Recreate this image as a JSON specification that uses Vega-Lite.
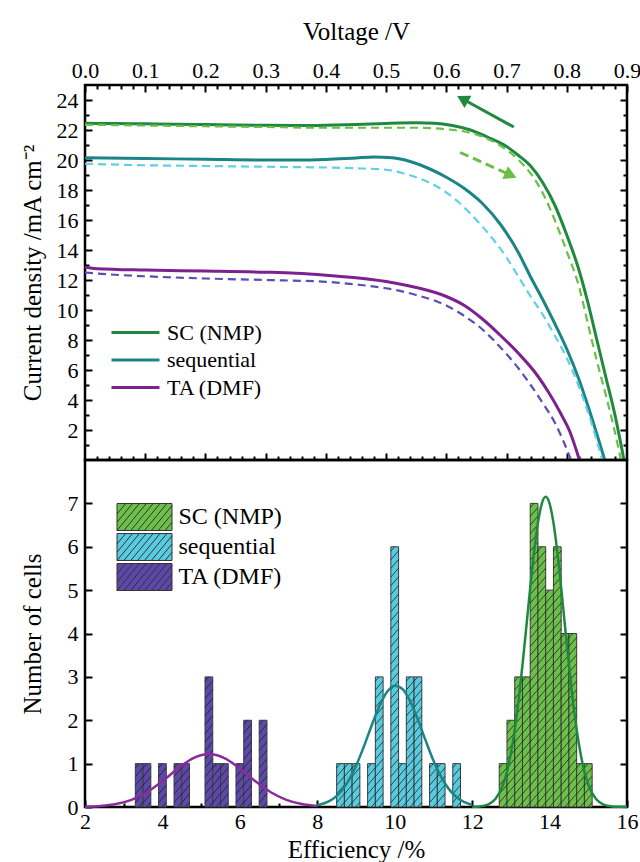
{
  "$schema": "https://vega.github.io/schema/vega-lite/v6.json",
  "background": "white",
  "padding": {"left": 18, "top": 17, "right": 5, "bottom": 5},
  "spacing": 0,
  "bounds": "flush",
  "config": {
    "view": {"stroke": "black", "strokeWidth": 2.5},
    "axis": {"domain": false, "grid": false, "labelFlush": false, "labelOverlap": false, "labelFont": "Liberation Serif", "labelFontSize": 22, "labelColor": "black", "titleFont": "Liberation Serif", "titleFontSize": 25, "titleFontWeight": "normal", "titleColor": "black", "tickColor": "black", "tickWidth": 2},
    "legend": {"labelFont": "Liberation Serif", "labelFontSize": 22, "labelColor": "black"}
  },
  "resolve": {"scale": {"color": "independent"}, "legend": {"color": "independent"}},
  "datasets": {
    "jv": [
      {"V":0,"J":22.45,"sample":"SC (NMP)","scan":"reverse"},{"V":0.05,"J":22.43,"sample":"SC (NMP)","scan":"reverse"},{"V":0.1,"J":22.41,"sample":"SC (NMP)","scan":"reverse"},{"V":0.15,"J":22.39,"sample":"SC (NMP)","scan":"reverse"},{"V":0.2,"J":22.36,"sample":"SC (NMP)","scan":"reverse"},{"V":0.25,"J":22.33,"sample":"SC (NMP)","scan":"reverse"},{"V":0.3,"J":22.31,"sample":"SC (NMP)","scan":"reverse"},{"V":0.35,"J":22.3,"sample":"SC (NMP)","scan":"reverse"},{"V":0.4,"J":22.32,"sample":"SC (NMP)","scan":"reverse"},{"V":0.45,"J":22.37,"sample":"SC (NMP)","scan":"reverse"},{"V":0.5,"J":22.44,"sample":"SC (NMP)","scan":"reverse"},{"V":0.55,"J":22.48,"sample":"SC (NMP)","scan":"reverse"},{"V":0.58,"J":22.45,"sample":"SC (NMP)","scan":"reverse"},{"V":0.61,"J":22.3,"sample":"SC (NMP)","scan":"reverse"},{"V":0.64,"J":22.0,"sample":"SC (NMP)","scan":"reverse"},{"V":0.67,"J":21.5,"sample":"SC (NMP)","scan":"reverse"},{"V":0.7,"J":20.9,"sample":"SC (NMP)","scan":"reverse"},{"V":0.72,"J":20.3,"sample":"SC (NMP)","scan":"reverse"},{"V":0.74,"J":19.6,"sample":"SC (NMP)","scan":"reverse"},{"V":0.76,"J":18.5,"sample":"SC (NMP)","scan":"reverse"},{"V":0.78,"J":17.0,"sample":"SC (NMP)","scan":"reverse"},{"V":0.8,"J":15.0,"sample":"SC (NMP)","scan":"reverse"},{"V":0.82,"J":12.7,"sample":"SC (NMP)","scan":"reverse"},{"V":0.835,"J":10.5,"sample":"SC (NMP)","scan":"reverse"},{"V":0.85,"J":8.0,"sample":"SC (NMP)","scan":"reverse"},{"V":0.865,"J":5.5,"sample":"SC (NMP)","scan":"reverse"},{"V":0.88,"J":3.0,"sample":"SC (NMP)","scan":"reverse"},{"V":0.895,"J":0,"sample":"SC (NMP)","scan":"reverse"},
      {"V":0,"J":22.35,"sample":"SC (NMP)","scan":"forward"},{"V":0.1,"J":22.3,"sample":"SC (NMP)","scan":"forward"},{"V":0.2,"J":22.25,"sample":"SC (NMP)","scan":"forward"},{"V":0.3,"J":22.2,"sample":"SC (NMP)","scan":"forward"},{"V":0.4,"J":22.15,"sample":"SC (NMP)","scan":"forward"},{"V":0.5,"J":22.15,"sample":"SC (NMP)","scan":"forward"},{"V":0.55,"J":22.15,"sample":"SC (NMP)","scan":"forward"},{"V":0.6,"J":22.05,"sample":"SC (NMP)","scan":"forward"},{"V":0.63,"J":21.9,"sample":"SC (NMP)","scan":"forward"},{"V":0.66,"J":21.55,"sample":"SC (NMP)","scan":"forward"},{"V":0.69,"J":20.95,"sample":"SC (NMP)","scan":"forward"},{"V":0.72,"J":20.0,"sample":"SC (NMP)","scan":"forward"},{"V":0.74,"J":19.1,"sample":"SC (NMP)","scan":"forward"},{"V":0.76,"J":17.8,"sample":"SC (NMP)","scan":"forward"},{"V":0.78,"J":16.0,"sample":"SC (NMP)","scan":"forward"},{"V":0.8,"J":13.9,"sample":"SC (NMP)","scan":"forward"},{"V":0.82,"J":11.6,"sample":"SC (NMP)","scan":"forward"},{"V":0.835,"J":9.1,"sample":"SC (NMP)","scan":"forward"},{"V":0.85,"J":6.6,"sample":"SC (NMP)","scan":"forward"},{"V":0.865,"J":4.3,"sample":"SC (NMP)","scan":"forward"},{"V":0.878,"J":2.2,"sample":"SC (NMP)","scan":"forward"},{"V":0.89,"J":0,"sample":"SC (NMP)","scan":"forward"},
      {"V":0,"J":20.15,"sample":"sequential","scan":"reverse"},{"V":0.1,"J":20.1,"sample":"sequential","scan":"reverse"},{"V":0.2,"J":20.05,"sample":"sequential","scan":"reverse"},{"V":0.3,"J":20.0,"sample":"sequential","scan":"reverse"},{"V":0.35,"J":20.0,"sample":"sequential","scan":"reverse"},{"V":0.4,"J":20.04,"sample":"sequential","scan":"reverse"},{"V":0.45,"J":20.14,"sample":"sequential","scan":"reverse"},{"V":0.48,"J":20.2,"sample":"sequential","scan":"reverse"},{"V":0.51,"J":20.15,"sample":"sequential","scan":"reverse"},{"V":0.54,"J":19.9,"sample":"sequential","scan":"reverse"},{"V":0.57,"J":19.45,"sample":"sequential","scan":"reverse"},{"V":0.6,"J":18.85,"sample":"sequential","scan":"reverse"},{"V":0.63,"J":18.1,"sample":"sequential","scan":"reverse"},{"V":0.66,"J":17.1,"sample":"sequential","scan":"reverse"},{"V":0.69,"J":15.7,"sample":"sequential","scan":"reverse"},{"V":0.72,"J":13.8,"sample":"sequential","scan":"reverse"},{"V":0.74,"J":12.2,"sample":"sequential","scan":"reverse"},{"V":0.76,"J":10.7,"sample":"sequential","scan":"reverse"},{"V":0.78,"J":9.1,"sample":"sequential","scan":"reverse"},{"V":0.8,"J":7.4,"sample":"sequential","scan":"reverse"},{"V":0.82,"J":5.4,"sample":"sequential","scan":"reverse"},{"V":0.84,"J":3.0,"sample":"sequential","scan":"reverse"},{"V":0.863,"J":0,"sample":"sequential","scan":"reverse"},
      {"V":0,"J":19.75,"sample":"sequential","scan":"forward"},{"V":0.1,"J":19.65,"sample":"sequential","scan":"forward"},{"V":0.2,"J":19.6,"sample":"sequential","scan":"forward"},{"V":0.3,"J":19.55,"sample":"sequential","scan":"forward"},{"V":0.4,"J":19.5,"sample":"sequential","scan":"forward"},{"V":0.45,"J":19.45,"sample":"sequential","scan":"forward"},{"V":0.5,"J":19.35,"sample":"sequential","scan":"forward"},{"V":0.53,"J":19.1,"sample":"sequential","scan":"forward"},{"V":0.56,"J":18.7,"sample":"sequential","scan":"forward"},{"V":0.59,"J":18.1,"sample":"sequential","scan":"forward"},{"V":0.62,"J":17.2,"sample":"sequential","scan":"forward"},{"V":0.65,"J":16.0,"sample":"sequential","scan":"forward"},{"V":0.68,"J":14.6,"sample":"sequential","scan":"forward"},{"V":0.7,"J":13.5,"sample":"sequential","scan":"forward"},{"V":0.72,"J":12.2,"sample":"sequential","scan":"forward"},{"V":0.74,"J":10.9,"sample":"sequential","scan":"forward"},{"V":0.76,"J":9.7,"sample":"sequential","scan":"forward"},{"V":0.78,"J":8.3,"sample":"sequential","scan":"forward"},{"V":0.8,"J":6.8,"sample":"sequential","scan":"forward"},{"V":0.82,"J":4.9,"sample":"sequential","scan":"forward"},{"V":0.84,"J":2.6,"sample":"sequential","scan":"forward"},{"V":0.859,"J":0,"sample":"sequential","scan":"forward"},
      {"V":0,"J":12.85,"sample":"TA (DMF)","scan":"reverse"},{"V":0.02,"J":12.75,"sample":"TA (DMF)","scan":"reverse"},{"V":0.1,"J":12.66,"sample":"TA (DMF)","scan":"reverse"},{"V":0.2,"J":12.6,"sample":"TA (DMF)","scan":"reverse"},{"V":0.3,"J":12.52,"sample":"TA (DMF)","scan":"reverse"},{"V":0.35,"J":12.45,"sample":"TA (DMF)","scan":"reverse"},{"V":0.4,"J":12.32,"sample":"TA (DMF)","scan":"reverse"},{"V":0.45,"J":12.15,"sample":"TA (DMF)","scan":"reverse"},{"V":0.5,"J":11.9,"sample":"TA (DMF)","scan":"reverse"},{"V":0.55,"J":11.5,"sample":"TA (DMF)","scan":"reverse"},{"V":0.6,"J":10.9,"sample":"TA (DMF)","scan":"reverse"},{"V":0.63,"J":10.3,"sample":"TA (DMF)","scan":"reverse"},{"V":0.66,"J":9.4,"sample":"TA (DMF)","scan":"reverse"},{"V":0.69,"J":8.3,"sample":"TA (DMF)","scan":"reverse"},{"V":0.72,"J":7.1,"sample":"TA (DMF)","scan":"reverse"},{"V":0.75,"J":5.7,"sample":"TA (DMF)","scan":"reverse"},{"V":0.77,"J":4.5,"sample":"TA (DMF)","scan":"reverse"},{"V":0.79,"J":3.1,"sample":"TA (DMF)","scan":"reverse"},{"V":0.805,"J":1.9,"sample":"TA (DMF)","scan":"reverse"},{"V":0.821,"J":0,"sample":"TA (DMF)","scan":"reverse"},
      {"V":0,"J":12.5,"sample":"TA (DMF)","scan":"forward"},{"V":0.05,"J":12.35,"sample":"TA (DMF)","scan":"forward"},{"V":0.1,"J":12.25,"sample":"TA (DMF)","scan":"forward"},{"V":0.2,"J":12.1,"sample":"TA (DMF)","scan":"forward"},{"V":0.3,"J":12.0,"sample":"TA (DMF)","scan":"forward"},{"V":0.4,"J":11.88,"sample":"TA (DMF)","scan":"forward"},{"V":0.45,"J":11.7,"sample":"TA (DMF)","scan":"forward"},{"V":0.5,"J":11.45,"sample":"TA (DMF)","scan":"forward"},{"V":0.55,"J":11.0,"sample":"TA (DMF)","scan":"forward"},{"V":0.6,"J":10.3,"sample":"TA (DMF)","scan":"forward"},{"V":0.63,"J":9.6,"sample":"TA (DMF)","scan":"forward"},{"V":0.66,"J":8.7,"sample":"TA (DMF)","scan":"forward"},{"V":0.69,"J":7.5,"sample":"TA (DMF)","scan":"forward"},{"V":0.72,"J":6.1,"sample":"TA (DMF)","scan":"forward"},{"V":0.74,"J":5.0,"sample":"TA (DMF)","scan":"forward"},{"V":0.76,"J":3.8,"sample":"TA (DMF)","scan":"forward"},{"V":0.78,"J":2.5,"sample":"TA (DMF)","scan":"forward"},{"V":0.795,"J":1.2,"sample":"TA (DMF)","scan":"forward"},{"V":0.807,"J":0,"sample":"TA (DMF)","scan":"forward"}
    ],
    "hist": [
      {"lo":3.3,"hi":3.5,"n":1,"sample":"TA (DMF)"},{"lo":3.5,"hi":3.7,"n":1,"sample":"TA (DMF)"},{"lo":3.9,"hi":4.1,"n":1,"sample":"TA (DMF)"},{"lo":4.3,"hi":4.5,"n":1,"sample":"TA (DMF)"},{"lo":4.5,"hi":4.7,"n":1,"sample":"TA (DMF)"},{"lo":5.1,"hi":5.3,"n":3,"sample":"TA (DMF)"},{"lo":5.3,"hi":5.5,"n":1,"sample":"TA (DMF)"},{"lo":5.5,"hi":5.7,"n":1,"sample":"TA (DMF)"},{"lo":5.9,"hi":6.1,"n":1,"sample":"TA (DMF)"},{"lo":6.1,"hi":6.3,"n":2,"sample":"TA (DMF)"},{"lo":6.5,"hi":6.7,"n":2,"sample":"TA (DMF)"},
      {"lo":8.5,"hi":8.7,"n":1,"sample":"sequential"},{"lo":8.7,"hi":8.9,"n":1,"sample":"sequential"},{"lo":8.9,"hi":9.1,"n":1,"sample":"sequential"},{"lo":9.3,"hi":9.5,"n":1,"sample":"sequential"},{"lo":9.5,"hi":9.7,"n":3,"sample":"sequential"},{"lo":9.9,"hi":10.1,"n":6,"sample":"sequential"},{"lo":10.1,"hi":10.3,"n":1,"sample":"sequential"},{"lo":10.3,"hi":10.5,"n":3,"sample":"sequential"},{"lo":10.5,"hi":10.7,"n":3,"sample":"sequential"},{"lo":10.9,"hi":11.1,"n":1,"sample":"sequential"},{"lo":11.1,"hi":11.3,"n":1,"sample":"sequential"},{"lo":11.5,"hi":11.7,"n":1,"sample":"sequential"},
      {"lo":12.7,"hi":12.9,"n":1,"sample":"SC (NMP)"},{"lo":12.9,"hi":13.1,"n":2,"sample":"SC (NMP)"},{"lo":13.1,"hi":13.3,"n":3,"sample":"SC (NMP)"},{"lo":13.3,"hi":13.5,"n":3,"sample":"SC (NMP)"},{"lo":13.5,"hi":13.7,"n":7,"sample":"SC (NMP)"},{"lo":13.7,"hi":13.9,"n":6,"sample":"SC (NMP)"},{"lo":13.9,"hi":14.1,"n":5,"sample":"SC (NMP)"},{"lo":14.1,"hi":14.3,"n":6,"sample":"SC (NMP)"},{"lo":14.3,"hi":14.5,"n":4,"sample":"SC (NMP)"},{"lo":14.5,"hi":14.7,"n":4,"sample":"SC (NMP)"},{"lo":14.7,"hi":14.9,"n":1,"sample":"SC (NMP)"},{"lo":14.9,"hi":15.1,"n":1,"sample":"SC (NMP)"}
    ],
    "fit": [
      {"eff":2.0,"n":0.007,"sample":"TA (DMF)"},{"eff":2.4,"n":0.024,"sample":"TA (DMF)"},{"eff":2.8,"n":0.068,"sample":"TA (DMF)"},{"eff":3.2,"n":0.165,"sample":"TA (DMF)"},{"eff":3.6,"n":0.339,"sample":"TA (DMF)"},{"eff":4.0,"n":0.594,"sample":"TA (DMF)"},{"eff":4.4,"n":0.886,"sample":"TA (DMF)"},{"eff":4.8,"n":1.126,"sample":"TA (DMF)"},{"eff":5.2,"n":1.22,"sample":"TA (DMF)"},{"eff":5.6,"n":1.126,"sample":"TA (DMF)"},{"eff":6.0,"n":0.886,"sample":"TA (DMF)"},{"eff":6.4,"n":0.594,"sample":"TA (DMF)"},{"eff":6.8,"n":0.339,"sample":"TA (DMF)"},{"eff":7.2,"n":0.165,"sample":"TA (DMF)"},{"eff":7.6,"n":0.068,"sample":"TA (DMF)"},{"eff":8.0,"n":0.024,"sample":"TA (DMF)"},
      {"eff":8.0,"n":0.042,"sample":"sequential"},{"eff":8.2,"n":0.092,"sample":"sequential"},{"eff":8.4,"n":0.186,"sample":"sequential"},{"eff":8.6,"n":0.347,"sample":"sequential"},{"eff":8.8,"n":0.598,"sample":"sequential"},{"eff":9.0,"n":0.948,"sample":"sequential"},{"eff":9.2,"n":1.386,"sample":"sequential"},{"eff":9.4,"n":1.868,"sample":"sequential"},{"eff":9.6,"n":2.318,"sample":"sequential"},{"eff":9.8,"n":2.653,"sample":"sequential"},{"eff":10.0,"n":2.797,"sample":"sequential"},{"eff":10.2,"n":2.719,"sample":"sequential"},{"eff":10.4,"n":2.435,"sample":"sequential"},{"eff":10.6,"n":2.01,"sample":"sequential"},{"eff":10.8,"n":1.529,"sample":"sequential"},{"eff":11.0,"n":1.072,"sample":"sequential"},{"eff":11.2,"n":0.693,"sample":"sequential"},{"eff":11.4,"n":0.412,"sample":"sequential"},{"eff":11.6,"n":0.226,"sample":"sequential"},{"eff":11.8,"n":0.114,"sample":"sequential"},{"eff":12.0,"n":0.053,"sample":"sequential"},
      {"eff":12.0,"n":0.003,"sample":"SC (NMP)"},{"eff":12.2,"n":0.014,"sample":"SC (NMP)"},{"eff":12.4,"n":0.054,"sample":"SC (NMP)"},{"eff":12.6,"n":0.183,"sample":"SC (NMP)"},{"eff":12.8,"n":0.518,"sample":"SC (NMP)"},{"eff":12.9,"n":0.817,"sample":"SC (NMP)"},{"eff":13.0,"n":1.233,"sample":"SC (NMP)"},{"eff":13.1,"n":1.783,"sample":"SC (NMP)"},{"eff":13.2,"n":2.469,"sample":"SC (NMP)"},{"eff":13.3,"n":3.274,"sample":"SC (NMP)"},{"eff":13.4,"n":4.156,"sample":"SC (NMP)"},{"eff":13.5,"n":5.053,"sample":"SC (NMP)"},{"eff":13.6,"n":5.882,"sample":"SC (NMP)"},{"eff":13.7,"n":6.556,"sample":"SC (NMP)"},{"eff":13.8,"n":6.996,"sample":"SC (NMP)"},{"eff":13.9,"n":7.15,"sample":"SC (NMP)"},{"eff":14.0,"n":6.996,"sample":"SC (NMP)"},{"eff":14.1,"n":6.556,"sample":"SC (NMP)"},{"eff":14.2,"n":5.882,"sample":"SC (NMP)"},{"eff":14.3,"n":5.053,"sample":"SC (NMP)"},{"eff":14.4,"n":4.156,"sample":"SC (NMP)"},{"eff":14.5,"n":3.274,"sample":"SC (NMP)"},{"eff":14.6,"n":2.469,"sample":"SC (NMP)"},{"eff":14.7,"n":1.783,"sample":"SC (NMP)"},{"eff":14.8,"n":1.233,"sample":"SC (NMP)"},{"eff":14.9,"n":0.817,"sample":"SC (NMP)"},{"eff":15.0,"n":0.518,"sample":"SC (NMP)"},{"eff":15.2,"n":0.183,"sample":"SC (NMP)"},{"eff":15.4,"n":0.054,"sample":"SC (NMP)"},{"eff":15.6,"n":0.014,"sample":"SC (NMP)"},{"eff":15.8,"n":0.003,"sample":"SC (NMP)"},{"eff":16.0,"n":0.0005,"sample":"SC (NMP)"}
    ],
    "arrows": [
      {"V":0.712,"J":22.2,"V2":0.627,"J2":24.07,"scan":"reverse"},
      {"V":0.623,"J":20.5,"V2":0.707,"J2":18.99,"scan":"forward"}
    ]
  },
  "vconcat": [
    {
      "width": 542,
      "height": 375,
      "resolve": {"scale": {"color": "independent"}, "axis": {"x": "independent", "y": "independent"}},
      "layer": [
        {
          "data": {"name": "jv"},
          "transform": [{"filter": "datum.scan === 'reverse'"}],
          "mark": {"type": "line", "strokeWidth": 3, "interpolate": "monotone"},
          "encoding": {
            "x": {"field": "V", "type": "quantitative", "scale": {"domain": [0, 0.9], "nice": false, "zero": false},
                  "axis": {"orient": "top", "values": [0,0.1,0.2,0.3,0.4,0.5,0.6,0.7,0.8,0.9], "format": ".1f", "title": "Voltage /V", "tickSize": -7, "labelPadding": 10, "titlePadding": 15}},
            "y": {"field": "J", "type": "quantitative", "scale": {"domain": [0, 25], "nice": false, "zero": false},
                  "axis": {"orient": "left", "values": [2,4,6,8,10,12,14,16,18,20,22,24], "title": "Current density /mA cm⁻²", "tickSize": -7, "labelPadding": 14, "titlePadding": 11}},
            "color": {"field": "sample", "type": "nominal",
                      "scale": {"domain": ["SC (NMP)", "sequential", "TA (DMF)"], "range": ["#1f8a3f", "#1b8585", "#7d2190"]},
                      "legend": {"orient": "none", "legendX": 37, "legendY": 234, "title": null, "symbolType": "M-2,0H2", "symbolSize": 576, "symbolStrokeWidth": 3, "rowPadding": 2.5, "labelOffset": 18, "labelFontSize": 22, "labelFont": "Liberation Serif"}}
          }
        },
        {
          "data": {"name": "jv"},
          "transform": [{"filter": "datum.scan === 'forward'"}],
          "mark": {"type": "line", "strokeWidth": 2.2, "strokeDash": [8, 5], "interpolate": "monotone"},
          "encoding": {
            "x": {"field": "V", "type": "quantitative", "scale": {"domain": [0, 0.9], "nice": false, "zero": false},
                  "axis": {"orient": "bottom", "values": [0.1,0.2,0.3,0.4,0.5,0.6,0.7,0.8], "labels": false, "title": null, "tickSize": -7}},
            "y": {"field": "J", "type": "quantitative", "scale": {"domain": [0, 25], "nice": false, "zero": false},
                  "axis": {"orient": "right", "values": [2,4,6,8,10,12,14,16,18,20,22,24], "labels": false, "title": null, "tickSize": -7}},
            "color": {"field": "sample", "type": "nominal",
                      "scale": {"domain": ["SC (NMP)", "sequential", "TA (DMF)"], "range": ["#6abf45", "#5fd0e6", "#5a4db3"]},
                      "legend": null}
          }
        },
        {
          "data": {"name": "arrows"},
          "transform": [{"filter": "datum.scan === 'reverse'"}],
          "mark": {"type": "rule", "strokeWidth": 3, "color": "#1f8a3f"},
          "encoding": {
            "x": {"field": "V", "type": "quantitative", "axis": {"orient": "top", "values": [0.02,0.04,0.06,0.08,0.12,0.14,0.16,0.18,0.22,0.24,0.26,0.28,0.32,0.34,0.36,0.38,0.42,0.44,0.46,0.48,0.52,0.54,0.56,0.58,0.62,0.64,0.66,0.68,0.72,0.74,0.76,0.78,0.82,0.84,0.86,0.88], "labels": false, "title": null, "tickSize": -4}},
            "y": {"field": "J", "type": "quantitative", "axis": {"orient": "left", "values": [1,3,5,7,9,11,13,15,17,19,21,23], "labels": false, "title": null, "tickSize": -4}},
            "x2": {"field": "V2"},
            "y2": {"field": "J2"}
          }
        },
        {
          "data": {"name": "arrows"},
          "transform": [{"filter": "datum.scan === 'reverse'"}],
          "mark": {"type": "point", "shape": "triangle-up", "filled": true, "size": 200, "angle": 299, "color": "#1f8a3f", "opacity": 1},
          "encoding": {
            "x": {"field": "V2", "type": "quantitative", "axis": {"orient": "bottom", "values": [0.02,0.04,0.06,0.08,0.12,0.14,0.16,0.18,0.22,0.24,0.26,0.28,0.32,0.34,0.36,0.38,0.42,0.44,0.46,0.48,0.52,0.54,0.56,0.58,0.62,0.64,0.66,0.68,0.72,0.74,0.76,0.78,0.82,0.84,0.86,0.88], "labels": false, "title": null, "tickSize": -4}},
            "y": {"field": "J2", "type": "quantitative", "axis": {"orient": "right", "values": [1,3,5,7,9,11,13,15,17,19,21,23], "labels": false, "title": null, "tickSize": -4}}
          }
        },
        {
          "data": {"name": "arrows"},
          "transform": [{"filter": "datum.scan === 'forward'"}],
          "mark": {"type": "rule", "strokeWidth": 3, "strokeDash": [9, 5], "color": "#6abf45"},
          "encoding": {
            "x": {"field": "V", "type": "quantitative", "axis": null},
            "y": {"field": "J", "type": "quantitative", "axis": null},
            "x2": {"field": "V2"},
            "y2": {"field": "J2"}
          }
        },
        {
          "data": {"name": "arrows"},
          "transform": [{"filter": "datum.scan === 'forward'"}],
          "mark": {"type": "point", "shape": "triangle-up", "filled": true, "size": 200, "angle": 114, "color": "#6abf45", "opacity": 1},
          "encoding": {
            "x": {"field": "V2", "type": "quantitative", "axis": null},
            "y": {"field": "J2", "type": "quantitative", "axis": null}
          }
        },
        {
          "mark": {"type": "text", "font": "Liberation Sans", "fontSize": 24, "align": "left", "baseline": "middle", "color": "black"},
          "encoding": {
            "x": {"datum": 0.015, "type": "quantitative", "axis": null},
            "y": {"datum": 23.6, "type": "quantitative", "axis": null},
            "text": {"value": "(a)"}
          }
        }
      ]
    },
    {
      "width": 542,
      "height": 347,
      "resolve": {"scale": {"color": "independent"}, "axis": {"x": "independent", "y": "independent"}},
      "layer": [
        {
          "data": {"name": "hist"},
          "mark": {"type": "bar", "stroke": "#3c3c3c", "strokeWidth": 1},
          "encoding": {
            "x": {"field": "lo", "type": "quantitative", "scale": {"domain": [2, 16], "nice": false, "zero": false},
                  "axis": {"orient": "bottom", "values": [2,4,6,8,10,12,14,16], "title": "Efficiency /%", "tickSize": -7, "labelPadding": 11, "titlePadding": 5}},
            "x2": {"field": "hi"},
            "y": {"field": "n", "type": "quantitative", "scale": {"domain": [0, 8], "nice": false},
                  "axis": {"orient": "left", "values": [0,1,2,3,4,5,6,7], "title": "Number of cells", "tickSize": -7, "labelPadding": 14, "titlePadding": 22}},
            "y2": {"datum": 0},
            "color": {"field": "sample", "type": "nominal",
                      "scale": {"domain": ["SC (NMP)", "sequential", "TA (DMF)"], "range": ["#6cc04a", "#58cbe0", "#5b48a8"]},
                      "legend": {"orient": "none", "legendX": 45, "legendY": 42.5, "title": null, "symbolType": "M-2,-0.98H2V0.98H-2Z M-2,-0.22L-1.37,-0.98 M-2,0.38L-0.87,-0.98 M-2,0.98L-0.37,-0.98 M-1.5,0.98L0.13,-0.98 M-1,0.98L0.63,-0.98 M-0.5,0.98L1.13,-0.98 M0,0.98L1.63,-0.98 M0.5,0.98L2,-0.82 M1,0.98L2,-0.22 M1.5,0.98L2,0.38", "symbolSize": 756, "symbolStrokeColor": "#333333", "symbolStrokeWidth": 1, "symbolOpacity": 1, "rowPadding": -1, "labelOffset": 19.5, "labelFontSize": 24, "labelFont": "Liberation Serif"}}
          }
        },
        {
          "data": {"name": "hist"},
          "mark": {"type": "point", "filled": false, "size": 4, "strokeWidth": 0.9, "color": "#1e1e1e", "opacity": 0.85},
          "encoding": {
            "x": {"field": "lo", "type": "quantitative", "axis": null},
            "y": {"datum": 0, "type": "quantitative", "axis": null},
            "shape": {"field": "n", "type": "ordinal", "legend": null,
                      "scale": {"domain": [1,2,3,4,5,6,7], "range": [
                        "M3.73,0L7.74,-4.66M0,-4.34L7.74,-13.34M0,-13.01L7.74,-22.01M0,-21.69L7.74,-30.69M0,-30.36L7.74,-39.36M0,-39.04L3.73,-43.38",
                        "M3.73,0L7.74,-4.66M0,-4.34L7.74,-13.34M0,-13.01L7.74,-22.01M0,-21.69L7.74,-30.69M0,-30.36L7.74,-39.36M0,-39.04L7.74,-48.04M0,-47.71L7.74,-56.71M0,-56.39L7.74,-65.39M0,-65.06L7.74,-74.06M0,-73.74L7.74,-82.74M0,-82.41L3.73,-86.75",
                        "M3.73,0L7.74,-4.66M0,-4.34L7.74,-13.34M0,-13.01L7.74,-22.01M0,-21.69L7.74,-30.69M0,-30.36L7.74,-39.36M0,-39.04L7.74,-48.04M0,-47.71L7.74,-56.71M0,-56.39L7.74,-65.39M0,-65.06L7.74,-74.06M0,-73.74L7.74,-82.74M0,-82.41L7.74,-91.41M0,-91.09L7.74,-100.09M0,-99.76L7.74,-108.76M0,-108.44L7.74,-117.44M0,-117.11L7.74,-126.11M0,-125.79L3.73,-130.13",
                        "M3.73,0L7.74,-4.66M0,-4.34L7.74,-13.34M0,-13.01L7.74,-22.01M0,-21.69L7.74,-30.69M0,-30.36L7.74,-39.36M0,-39.04L7.74,-48.04M0,-47.71L7.74,-56.71M0,-56.39L7.74,-65.39M0,-65.06L7.74,-74.06M0,-73.74L7.74,-82.74M0,-82.41L7.74,-91.41M0,-91.09L7.74,-100.09M0,-99.76L7.74,-108.76M0,-108.44L7.74,-117.44M0,-117.11L7.74,-126.11M0,-125.79L7.74,-134.79M0,-134.46L7.74,-143.46M0,-143.14L7.74,-152.14M0,-151.81L7.74,-160.81M0,-160.49L7.74,-169.49M0,-169.16L3.73,-173.5",
                        "M3.73,0L7.74,-4.66M0,-4.34L7.74,-13.34M0,-13.01L7.74,-22.01M0,-21.69L7.74,-30.69M0,-30.36L7.74,-39.36M0,-39.04L7.74,-48.04M0,-47.71L7.74,-56.71M0,-56.39L7.74,-65.39M0,-65.06L7.74,-74.06M0,-73.74L7.74,-82.74M0,-82.41L7.74,-91.41M0,-91.09L7.74,-100.09M0,-99.76L7.74,-108.76M0,-108.44L7.74,-117.44M0,-117.11L7.74,-126.11M0,-125.79L7.74,-134.79M0,-134.46L7.74,-143.46M0,-143.14L7.74,-152.14M0,-151.81L7.74,-160.81M0,-160.49L7.74,-169.49M0,-169.16L7.74,-178.16M0,-177.84L7.74,-186.84M0,-186.51L7.74,-195.51M0,-195.19L7.74,-204.19M0,-203.86L7.74,-212.86M0,-212.54L3.73,-216.88",
                        "M3.73,0L7.74,-4.66M0,-4.34L7.74,-13.34M0,-13.01L7.74,-22.01M0,-21.69L7.74,-30.69M0,-30.36L7.74,-39.36M0,-39.04L7.74,-48.04M0,-47.71L7.74,-56.71M0,-56.39L7.74,-65.39M0,-65.06L7.74,-74.06M0,-73.74L7.74,-82.74M0,-82.41L7.74,-91.41M0,-91.09L7.74,-100.09M0,-99.76L7.74,-108.76M0,-108.44L7.74,-117.44M0,-117.11L7.74,-126.11M0,-125.79L7.74,-134.79M0,-134.46L7.74,-143.46M0,-143.14L7.74,-152.14M0,-151.81L7.74,-160.81M0,-160.49L7.74,-169.49M0,-169.16L7.74,-178.16M0,-177.84L7.74,-186.84M0,-186.51L7.74,-195.51M0,-195.19L7.74,-204.19M0,-203.86L7.74,-212.86M0,-212.54L7.74,-221.54M0,-221.21L7.74,-230.21M0,-229.89L7.74,-238.89M0,-238.56L7.74,-247.56M0,-247.24L7.74,-256.24M0,-255.91L3.73,-260.25",
                        "M3.73,0L7.74,-4.66M0,-4.34L7.74,-13.34M0,-13.01L7.74,-22.01M0,-21.69L7.74,-30.69M0,-30.36L7.74,-39.36M0,-39.04L7.74,-48.04M0,-47.71L7.74,-56.71M0,-56.39L7.74,-65.39M0,-65.06L7.74,-74.06M0,-73.74L7.74,-82.74M0,-82.41L7.74,-91.41M0,-91.09L7.74,-100.09M0,-99.76L7.74,-108.76M0,-108.44L7.74,-117.44M0,-117.11L7.74,-126.11M0,-125.79L7.74,-134.79M0,-134.46L7.74,-143.46M0,-143.14L7.74,-152.14M0,-151.81L7.74,-160.81M0,-160.49L7.74,-169.49M0,-169.16L7.74,-178.16M0,-177.84L7.74,-186.84M0,-186.51L7.74,-195.51M0,-195.19L7.74,-204.19M0,-203.86L7.74,-212.86M0,-212.54L7.74,-221.54M0,-221.21L7.74,-230.21M0,-229.89L7.74,-238.89M0,-238.56L7.74,-247.56M0,-247.24L7.74,-256.24M0,-255.91L7.74,-264.91M0,-264.59L7.74,-273.59M0,-273.26L7.74,-282.26M0,-281.94L7.74,-290.94M0,-290.61L7.74,-299.61M0,-299.29L3.73,-303.63"
                      ]}}
          }
        },
        {
          "data": {"name": "fit"},
          "mark": {"type": "line", "strokeWidth": 2.5, "interpolate": "monotone"},
          "encoding": {
            "x": {"field": "eff", "type": "quantitative", "scale": {"domain": [2, 16], "nice": false, "zero": false},
                  "axis": {"orient": "bottom", "values": [3,5,7,9,11,13,15], "labels": false, "title": null, "tickSize": -4}},
            "y": {"field": "n", "type": "quantitative", "scale": {"domain": [0, 8], "nice": false},
                  "axis": {"orient": "right", "values": [1,2,3,4,5,6,7], "labels": false, "title": null, "tickSize": -7}},
            "color": {"field": "sample", "type": "nominal",
                      "scale": {"domain": ["SC (NMP)", "sequential", "TA (DMF)"], "range": ["#1f8a3f", "#1b8585", "#8a2c9c"]},
                      "legend": null}
          }
        },
        {
          "mark": {"type": "text", "font": "Liberation Sans", "fontSize": 24, "align": "left", "baseline": "middle", "color": "black"},
          "encoding": {
            "x": {"datum": 2.34, "type": "quantitative", "axis": null},
            "y": {"datum": 7.47, "type": "quantitative", "axis": null},
            "text": {"value": "(b)"}
          }
        }
      ]
    }
  ]
}
